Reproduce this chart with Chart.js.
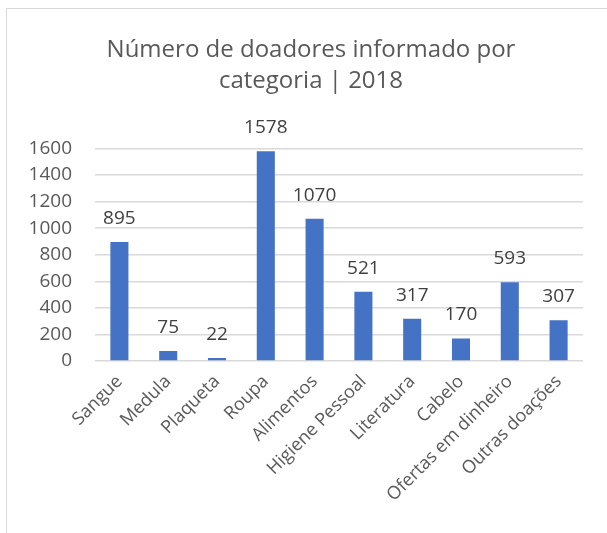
<!DOCTYPE html>
<html>
<head>
<meta charset="utf-8">
<script src="https://cdn.jsdelivr.net/npm/chart.js@4"></script>
<style>
  body { margin: 0; background: #fff; overflow: hidden; }
  #frame {
    position: absolute;
    left: 6px;
    top: 8px;
    width: 620px;
    height: 540px;
    border-left: 1px solid #d9d9d9;
    border-top: 1px solid #d9d9d9;
  }
  #wrap { position: absolute; left: 0; top: 0; width: 608px; height: 525px; }
</style>
</head>
<body>
<div id="frame">
  <div id="wrap"><canvas id="chart"></canvas></div>
</div>
<script>
// values
const categories = [
  "Sangue", "Medula", "Plaqueta", "Roupa", "Alimentos",
  "Higiene Pessoal", "Literatura", "Cabelo", "Ofertas em dinheiro", "Outras doações"
];
const doadores = [895, 75, 22, 1578, 1070, 521, 317, 170, 593, 307];
const titleLines = ["Número de doadores informado por", "categoria | 2018"];
const yMax = 1600;
const yStep = 200;

// draws the number above each bar, like excel data labels
const barLabels = {
  id: "barLabels",
  afterDatasetsDraw(chart) {
    const ctx = chart.ctx;
    const meta = chart.getDatasetMeta(0);
    ctx.save();
    ctx.font = "19px 'Open Sans'";
    ctx.fillStyle = "#404040";
    ctx.textAlign = "center";
    ctx.textBaseline = "alphabetic";
    meta.data.forEach((bar, i) => {
      ctx.fillText(String(doadores[i]), bar.x, bar.y - 18);
    });
    ctx.restore();
  },
};

function startChart() {
  new Chart(document.getElementById("chart"), {
    type: "bar",
    data: {
      labels: categories,
      datasets: [
        {
          label: "Doadores",
          data: doadores,
          backgroundColor: "#4472C4",
          borderWidth: 0,
          barPercentage: 0.37,
          categoryPercentage: 1,
        },
      ],
    },
    plugins: [barLabels],
    options: {
      responsive: true,
      maintainAspectRatio: false,
      animation: false,
      layout: { padding: 0 },
      plugins: {
        legend: { display: false },
        tooltip: { enabled: false },
        title: {
          display: true,
          text: titleLines,
          color: "#595959",
          font: { size: 24, family: "'Open Sans'", weight: "normal", lineHeight: 1.32 },
          padding: { top: 25, bottom: 51 },
        },
      },
      scales: {
        x: {
          grid: { display: false },
          border: { display: false },
          ticks: {
            color: "#595959",
            font: { size: 18, family: "'Open Sans'" },
            minRotation: 45,
            maxRotation: 45,
            autoSkip: false,
            padding: 2,
          },
          afterFit(scale) {
            scale.height = 173;
          },
        },
        y: {
          min: 0,
          max: yMax,
          grid: { color: "#d9d9d9", lineWidth: 1.5, drawTicks: false },
          border: { display: false },
          ticks: {
            stepSize: yStep,
            color: "#595959",
            font: { size: 19, family: "'Open Sans'" },
            padding: 23,
            callback: (v) => String(v),
          },
          afterFit(scale) {
            scale.width = 88;
          },
        },
        // empty right axis, only used as a spacer so the title stays centred
        spacer: {
          type: "linear",
          position: "right",
          grid: { display: false },
          border: { display: false },
          ticks: { display: false },
          afterFit(scale) {
            scale.width = 32;
          },
        },
      },
    },
  });
}

startChart();
</script>
</body>
</html>
